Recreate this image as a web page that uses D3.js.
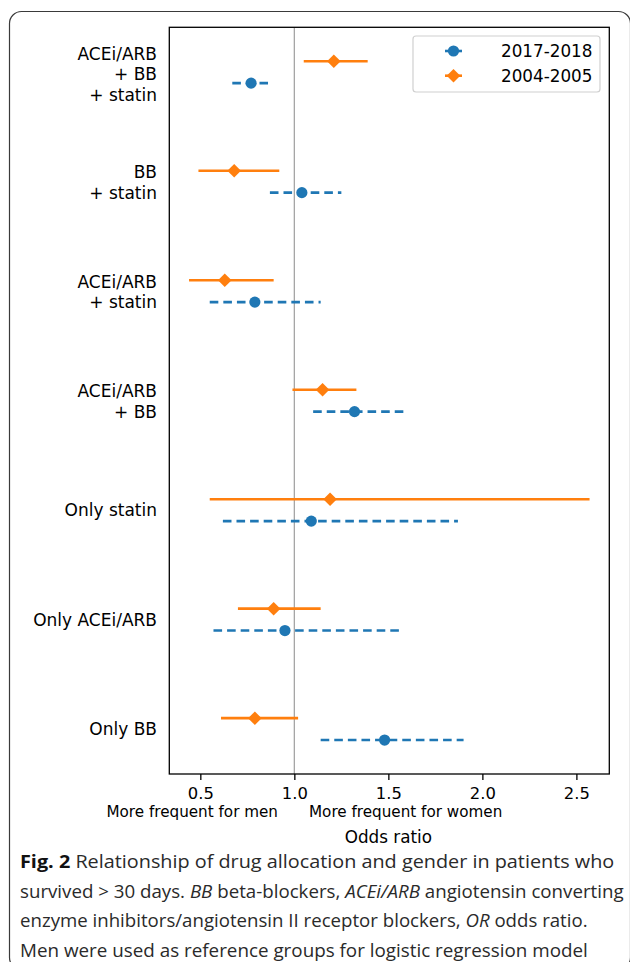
<!DOCTYPE html>
<html>
<head>
<meta charset="utf-8">
<script src="https://cdn.jsdelivr.net/npm/d3@7"></script>
<style>
    body { margin: 0; background: #fff; }
    text { font-family: "DejaVu Sans", sans-serif; fill: #000; }
    .caption text { font-family: "Open Sans", "Noto Sans", sans-serif; fill: #2a2a2a; }
</style>
</head>
<body>
<div id="chart-area"></div>
<script>

// categories, listed from top to bottom
var categories = ["ACEi/ARB\n+ BB\n+ statin", "BB\n+ statin", "ACEi/ARB\n+ statin",
    "ACEi/ARB\n+ BB", "Only statin", "Only ACEi/ARB", "Only BB"];

var seriesNames = ["2017-2018", "2004-2005"];

// 2017-2018 (blue, dashed)
var or2017 = [0.77, 1.04, 0.79, 1.32, 1.09, 0.95, 1.48];
var lo2017 = [0.67, 0.87, 0.55, 1.10, 0.62, 0.57, 1.14];
var hi2017 = [0.86, 1.25, 1.14, 1.58, 1.87, 1.58, 1.90];

// 2004-2005 (orange, solid)
var or2004 = [1.21, 0.68, 0.63, 1.15, 1.19, 0.89, 0.79];
var lo2004 = [1.05, 0.49, 0.44, 0.99, 0.55, 0.70, 0.61];
var hi2004 = [1.39, 0.92, 0.89, 1.33, 2.57, 1.14, 1.02];

var xTicks = [0.5, 1.0, 1.5, 2.0, 2.5];

var captionLines = [
    [["Fig. 2", "bold"], ["  Relationship of drug allocation and gender in patients who", ""]],
    [["survived > 30 days. ", ""], ["BB", "italic"], [" beta-blockers, ", ""], ["ACEi/ARB", "italic"], [" angiotensin converting", ""]],
    [["enzyme inhibitors/angiotensin II receptor blockers, ", ""], ["OR", "italic"], [" odds ratio.", ""]],
    [["Men were used as reference groups for logistic regression model", ""]]
];
var captionWidths = [595, 604, 568, 568];


/*
 * ForestPlot - object constructor
 */
ForestPlot = function(_parentElement) {
    this.parentElement = _parentElement;
    this.initVis();
}

ForestPlot.prototype.initVis = function() {
    var vis = this;

    vis.width = 630;
    vis.height = 962;
    vis.plot = { left: 169.3, right: 609.3, top: 27.3, bottom: 774 };

    vis.svg = d3.select("#" + vis.parentElement).append("svg")
        .attr("width", vis.width)
        .attr("height", vis.height);

    vis.colors = { "2017-2018": "#1f77b4", "2004-2005": "#ff7f0e" };

    // rounded frame round figure + caption
    vis.svg.append("rect")
        .attr("x", 9.5).attr("y", 11.5)
        .attr("width", 621).attr("height", 958)
        .attr("rx", 12)
        .attr("fill", "none")
        .attr("stroke", "#3a3a3a")
        .attr("stroke-width", 1.2);

    vis.x = d3.scaleLinear()
        .domain([0.335, 2.675])
        .range([vis.plot.left, vis.plot.right]);

    var n = categories.length;
    vis.y = d3.scaleLinear()
        .domain([-0.41, n - 1 + 0.41])
        .range([vis.plot.bottom, vis.plot.top]);

    vis.rows = categories.map(function(c, i) {
        return { label: c, pos: n - 1 - i, i: i };
    });

    vis.updateVis();
}

ForestPlot.prototype.updateVis = function() {
    var vis = this;
    var p = vis.plot;

    // reference line at OR = 1
    vis.svg.append("line")
        .attr("x1", vis.x(1)).attr("x2", vis.x(1))
        .attr("y1", p.top).attr("y2", p.bottom)
        .attr("stroke", "#a6a6a6")
        .attr("stroke-width", 1.3);

    var series = [
        { name: "2017-2018", est: or2017, lo: lo2017, hi: hi2017, off: -0.1, dash: "8.6,5" },
        { name: "2004-2005", est: or2004, lo: lo2004, hi: hi2004, off: 0.1, dash: null }
    ];

    series.forEach(function(s) {
        var g = vis.svg.append("g").attr("class", "series");
        var col = vis.colors[s.name];

        g.selectAll("line.ci")
            .data(vis.rows)
            .enter().append("line")
            .attr("class", "ci")
            .attr("x1", function(d) { return vis.x(s.lo[d.i]); })
            .attr("x2", function(d) { return vis.x(s.hi[d.i]); })
            .attr("y1", function(d) { return vis.y(d.pos + s.off); })
            .attr("y2", function(d) { return vis.y(d.pos + s.off); })
            .attr("stroke", col)
            .attr("stroke-width", 2.6)
            .attr("stroke-dasharray", s.dash);

        if (s.name === "2017-2018") {
            g.selectAll("circle")
                .data(vis.rows)
                .enter().append("circle")
                .attr("cx", function(d) { return vis.x(s.est[d.i]); })
                .attr("cy", function(d) { return vis.y(d.pos + s.off); })
                .attr("r", 5.6)
                .attr("fill", col);
        } else {
            g.selectAll("path.mk")
                .data(vis.rows)
                .enter().append("path")
                .attr("class", "mk")
                .attr("d", d3.symbol().type(d3.symbolSquare).size(92))
                .attr("transform", function(d) {
                    return "translate(" + vis.x(s.est[d.i]) + "," + vis.y(d.pos + s.off) + ") rotate(45)";
                })
                .attr("fill", col);
        }
    });

    // plot frame
    vis.svg.append("rect")
        .attr("x", p.left).attr("y", p.top)
        .attr("width", p.right - p.left)
        .attr("height", p.bottom - p.top)
        .attr("fill", "none")
        .attr("stroke", "#000")
        .attr("stroke-width", 1.3);

    // x axis
    var xAxis = d3.axisBottom(vis.x)
        .tickValues(xTicks)
        .tickFormat(d3.format(".1f"))
        .tickSize(6)
        .tickPadding(4);

    var ax = vis.svg.append("g")
        .attr("transform", "translate(0," + p.bottom + ")")
        .call(xAxis);
    ax.select(".domain").remove();
    ax.selectAll(".tick line").attr("stroke", "#000").attr("stroke-width", 1.3);
    ax.selectAll(".tick text")
        .attr("y", 25)
        .attr("dy", null)
        .style("font-family", "DejaVu Sans")
        .style("font-size", "16.4px")
        .attr("fill", "#000");

    // category labels
    var labs = vis.svg.selectAll("text.cat-label")
        .data(vis.rows)
        .enter().append("text")
        .attr("class", "cat-label")
        .attr("text-anchor", "end")
        .style("font-size", "17px");

    labs.each(function(d) {
        var lines = d.label.split("\n");
        var cy = vis.y(d.pos) + 6 + (lines.length - 1) * 1.0;
        var t = d3.select(this);
        lines.forEach(function(l, k) {
            t.append("tspan")
                .attr("x", 157)
                .attr("y", cy + (k - (lines.length - 1) / 2) * 20.4)
                .text(l);
        });
    });

    // annotations under the axis
    vis.svg.append("text")
        .attr("x", 278).attr("y", 817)
        .attr("text-anchor", "end")
        .style("font-size", "15.2px")
        .text("More frequent for men");

    vis.svg.append("text")
        .attr("x", 309).attr("y", 817)
        .style("font-size", "15.2px")
        .text("More frequent for women");

    vis.svg.append("text")
        .attr("x", vis.x(1.5)).attr("y", 843)
        .attr("text-anchor", "middle")
        .style("font-size", "16.8px")
        .text("Odds ratio");

    // legend
    var lg = vis.svg.append("g").attr("class", "legend");
    lg.append("rect")
        .attr("x", 413).attr("y", 36)
        .attr("width", 187).attr("height", 56)
        .attr("rx", 3)
        .attr("fill", "#fff")
        .attr("fill-opacity", 0.8)
        .attr("stroke", "#d0d0d0")
        .attr("stroke-width", 1.2);

    var items = lg.selectAll("g.item")
        .data(seriesNames)
        .enter().append("g")
        .attr("class", "item")
        .attr("transform", function(d, i) { return "translate(0," + (51 + i * 24.7) + ")"; });

    items.append("line")
        .attr("x1", 445).attr("x2", 462)
        .attr("stroke", function(d) { return vis.colors[d]; })
        .attr("stroke-width", 2.6);

    items.each(function(d) {
        var it = d3.select(this);
        if (d === "2017-2018") {
            it.append("circle").attr("cx", 453.5).attr("r", 5.6).attr("fill", vis.colors[d]);
        } else {
            it.append("path")
                .attr("d", d3.symbol().type(d3.symbolSquare).size(92))
                .attr("transform", "translate(453.5,0) rotate(45)")
                .attr("fill", vis.colors[d]);
        }
    });

    items.append("text")
        .attr("x", 501).attr("y", 6)
        .style("font-size", "16.8px")
        .text(function(d) { return d; });

    // caption
    var cap = vis.svg.append("g").attr("class", "caption");
    captionLines.forEach(function(parts, k) {
        var t = cap.append("text")
            .attr("x", 0).attr("y", 0)
            .style("font-size", "18.5px");
        parts.forEach(function(pt) {
            var ts = t.append("tspan").text(pt[0]);
            if (pt[1] === "bold") ts.style("font-weight", "bold").attr("fill", "#111");
            if (pt[1] === "italic") ts.style("font-style", "italic");
        });
        var w = t.node().getComputedTextLength();
        t.attr("transform", "translate(20," + (868 + k * 29.6) + ") scale(" + (captionWidths[k] / w) + ",1)");
    });
}

var forestPlot = new ForestPlot("chart-area");

</script>
</body>
</html>
